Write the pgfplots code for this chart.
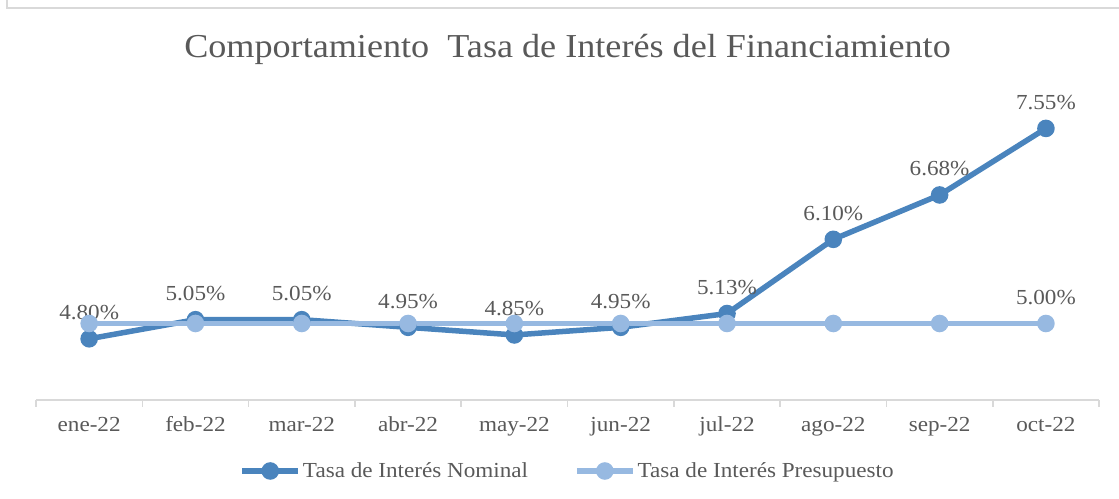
\documentclass[border=0pt]{standalone}
\usepackage{pgfplots}
\pgfplotsset{compat=1.18}
\usepackage{fontspec}
\setmainfont{Liberation Serif}[FakeStretch=1.08]
\definecolor{nom}{HTML}{4A84BD}
\definecolor{pre}{HTML}{97B9E1}
\definecolor{txt}{HTML}{595959}
\definecolor{gridc}{HTML}{D9D9D9}
\newcommand{\lblfont}{\fontsize{21.5}{26}\selectfont}
\begin{document}
\begin{tikzpicture}[x=1bp,y=1bp]
\useasboundingbox (0,0) rectangle (1119,499);
\draw[gridc, line width=1.5bp] (7,499) -- (7,491) -- (1119,491);
\node[anchor=base, text=txt, font=\fontsize{33.6}{40}\selectfont, inner sep=0pt] at (567.5,441) {Comportamiento\ \ Tasa de Interés del Financiamiento};
\begin{axis}[
  at={(36bp,99bp)}, anchor=south west,
  width=1063bp, height=306bp, scale only axis,
  xmin=-0.5, xmax=9.5, ymin=4, ymax=8,
  hide y axis,
  axis x line*=bottom,
  x axis line style={gridc, line width=1.5bp, -},
  xtick={0,...,9},
  xticklabels={ene-22,feb-22,mar-22,abr-22,may-22,jun-22,jul-22,ago-22,sep-22,oct-22},
  major tick length=0pt,
  minor xtick={-0.5,0.5,...,9.5},
  minor tick length=7bp,
  tick align=outside,
  minor tick style={gridc, line width=1.5bp},
  xticklabel style={font=\lblfont, text=txt, anchor=base, yshift=-32bp},
  clip=false,
  every node near coord/.append style={font=\lblfont, text=txt, anchor=base, yshift=19bp},
  legend columns=2,
  legend style={at={(0.5,-0.232)}, anchor=center, draw=none, fill=none,
    font=\lblfont, text=txt,
    nodes={inner sep=2bp},
    /tikz/every even column/.append style={column sep=44bp}},
  legend image code/.code={\draw[mark repeat=2,mark phase=2] plot coordinates {(0bp,0bp) (28bp,0bp) (56bp,0bp)};},
]
\addplot[nom, line width=5.5bp, mark=*, mark size=6bp, point meta=y,
  nodes near coords={\pgfmathprintnumber[fixed,fixed zerofill,precision=2,assume math mode=true]{\pgfplotspointmeta}\%}]
  coordinates {(0,4.80) (1,5.05) (2,5.05) (3,4.95) (4,4.85) (5,4.95) (6,5.13) (7,6.10) (8,6.68) (9,7.55)};
\addlegendentry{Tasa de Interés Nominal}
\addplot[pre, line width=5.5bp, mark=*, mark size=6bp]
  coordinates {(0,5.00) (1,5.00) (2,5.00) (3,5.00) (4,5.00) (5,5.00) (6,5.00) (7,5.00) (8,5.00) (9,5.00)};
\addlegendentry{Tasa de Interés Presupuesto}
\addplot[draw=none, mark=none, point meta=y, forget plot,
  nodes near coords={\pgfmathprintnumber[fixed,fixed zerofill,precision=2,assume math mode=true]{\pgfplotspointmeta}\%}]
  coordinates {(9,5.00)};
\end{axis}
\end{tikzpicture}
\end{document}
